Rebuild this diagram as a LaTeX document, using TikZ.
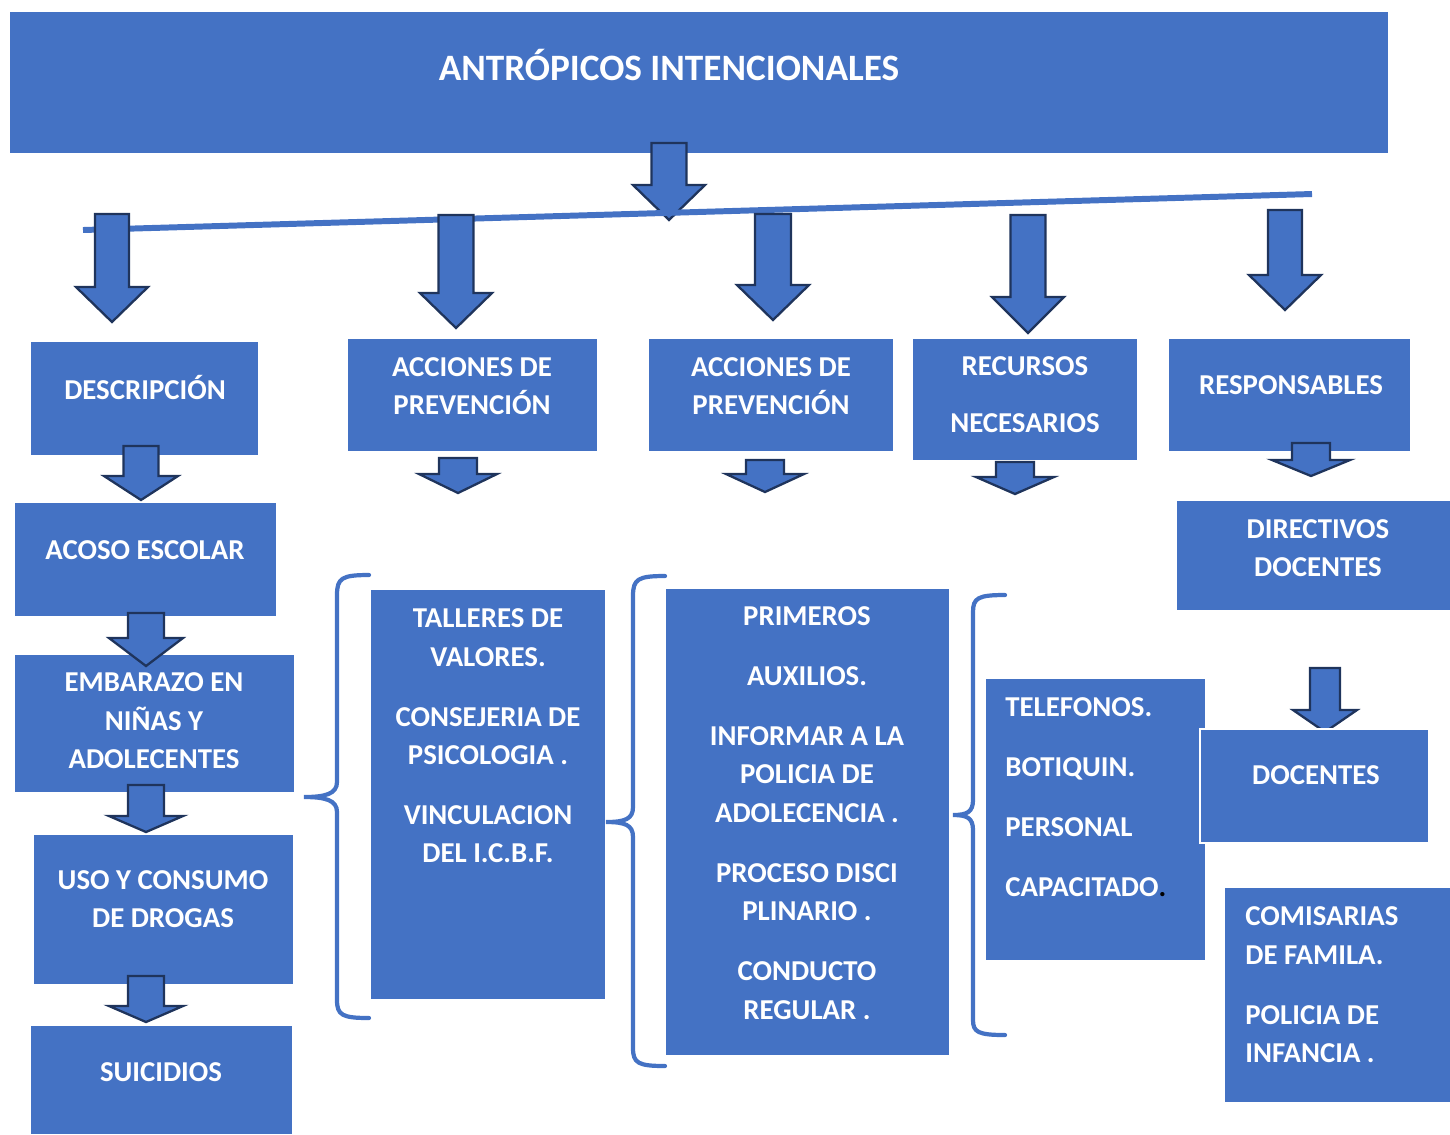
\documentclass[tikz,border=0pt]{standalone}
\usepackage{fontspec}
\setmainfont{Carlito}
\definecolor{boxblue}{RGB}{68,114,196}
\definecolor{arrowline}{RGB}{31,52,92}
\tikzset{
	boxfill/.style={fill=boxblue},
	boxtext/.style={text=white, font=\bfseries\fontsize{16.4}{21.9}\selectfont, inner sep=0pt, align=center},
	bigtext/.style={boxtext, font=\bfseries\fontsize{21.2}{26}\selectfont},
	blockarrow/.style={fill=boxblue, draw=arrowline, line width=1.3pt, line join=miter},
	bracket/.style={draw=boxblue, line width=2.4pt, line cap=round},
}
% down arrow: centre x, top, head y, tip y, half shaft, half head
\newcommand{\downblock}[6]{%
	\filldraw[blockarrow] ({#1-#5}, #2) -- ({#1+#5}, #2) -- ({#1+#5}, #3) -- ({#1+#6}, #3)
		-- (#1, #4) -- ({#1-#6}, #3) -- ({#1-#5}, #3) -- cycle;}
\begin{document}
\begin{tikzpicture}[x=0.02cm, y=-0.02cm]
	\useasboundingbox (0, 0) rectangle (1450, 1134);

	\fill[boxfill] (10, 12) rectangle (1388, 153);
	\node[bigtext] (title) at(669, 65){ANTRÓPICOS INTENCIONALES};

	\downblock{669}{143}{185}{220}{17.5}{36}
	\draw[boxblue, line width=3.4pt] (83, 230) to (1312, 194);

		\downblock{112}{214}{287}{322}{17}{36}
		\downblock{456}{215}{293}{328}{17.5}{36}
		\downblock{773}{214}{285}{320}{18}{36}
		\downblock{1028}{215}{297}{333}{17.5}{36}
		\downblock{1285}{210}{275}{310}{17}{36}

	\fill[boxfill] (31, 342) rectangle (258, 455);
	\fill[boxfill] (348, 339) rectangle (597, 451);
	\fill[boxfill] (649, 339) rectangle (893, 451);
	\fill[boxfill] (913, 339) rectangle (1137, 460);
	\fill[boxfill] (1169, 339) rectangle (1410, 451);

	\node[boxtext] (descripcion) at(145, 387){DESCRIPCIÓN};
	\node[boxtext] (accionesA) at(472, 386){ACCIONES DE\\PREVENCIÓN};
	\node[boxtext] (accionesB) at(771, 386){ACCIONES DE\\PREVENCIÓN};
	\node[boxtext] (recursos) at(1025, 395){RECURSOS\\[10.4pt]NECESARIOS};
	\node[boxtext] (responsables) at(1291, 385){RESPONSABLES};

		\downblock{458}{458}{474}{493}{19}{39}
		\downblock{765}{460}{474}{492}{19}{39}
		\downblock{1015}{462}{477}{494}{19}{39}
		\downblock{1311}{443}{460}{476}{19}{39}

	% left column
	\fill[boxfill] (15, 503) rectangle (276, 616);
	\fill[boxfill] (15, 655) rectangle (294, 792);
	\fill[boxfill] (34, 835) rectangle (293, 984);
	\fill[boxfill] (31, 1026) rectangle (292, 1134);

	\node[boxtext] (acoso) at(145, 550){ACOSO ESCOLAR};
	\node[boxtext] (embarazo) at(154, 721){EMBARAZO EN\\NIÑAS Y\\ADOLECENTES};
	\node[boxtext] (drogas) at(163, 899){USO Y CONSUMO\\DE DROGAS};
	\node[boxtext] (suicidios) at(161, 1072){SUICIDIOS};

		\downblock{141}{446}{476}{500}{17.5}{37}
		\downblock{146}{613}{638}{666}{18}{37}
		\downblock{146}{785}{816}{832}{18}{37}
		\downblock{146}{976}{1006}{1022}{18}{37}

	% brackets
	\draw[bracket] (369, 575) .. controls (342, 575) and (337, 578) .. (337, 595) to (337, 782)
		.. controls (337, 794) and (325, 797) .. (304, 797) .. controls (325, 797) and (337, 800) .. (337, 812)
		to (337, 1000) .. controls (337, 1015) and (342, 1018) .. (369, 1018);
	\draw[bracket] (665, 576) .. controls (638, 576) and (633, 579) .. (633, 596) to (633, 807)
		.. controls (633, 819) and (625, 822) .. (606, 822) .. controls (625, 822) and (633, 825) .. (633, 837)
		to (633, 1048) .. controls (633, 1063) and (638, 1066) .. (665, 1066);
	\draw[bracket] (1005, 595) .. controls (978, 595) and (973, 598) .. (973, 612) to (973, 800)
		.. controls (973, 812) and (967, 815) .. (953, 815) .. controls (967, 815) and (973, 818) .. (973, 830)
		to (973, 1020) .. controls (973, 1032) and (978, 1035) .. (1005, 1035);

	\fill[boxfill] (371, 590) rectangle (605, 999);
	\node[boxtext] (talleres) at(488, 736){TALLERES DE\\VALORES.\\[12.2pt]CONSEJERIA DE\\PSICOLOGIA .\\[12.2pt]VINCULACION\\DEL I.C.B.F.};

	\fill[boxfill] (666, 589) rectangle (949, 1055);
	\node[boxtext] (primeros) at(807, 813){PRIMEROS\\[12.2pt]AUXILIOS.\\[12.2pt]INFORMAR A LA\\POLICIA DE\\ADOLECENCIA .\\[12.2pt]PROCESO DISCI\\PLINARIO .\\[12.2pt]CONDUCTO\\REGULAR .};

	\fill[boxfill] (986, 679) rectangle (1205, 960);
	\node[boxtext, align=left, anchor=west] (telefonos) at(1005, 797){TELEFONOS.\\[12.2pt]BOTIQUIN.\\[12.2pt]PERSONAL\\[12.2pt]CAPACITADO{\color{black}.}};

	% responsables
	\fill[boxfill] (1177, 501) rectangle (1450, 610);
	\node[boxtext] (directivos) at(1318, 548){DIRECTIVOS\\DOCENTES};

		\downblock{1325}{668}{710}{732}{15}{32}
	\filldraw[boxfill, draw=white, line width=1pt] (1200, 729) rectangle (1429, 843);
	\node[boxtext] (docentes) at(1316, 775){DOCENTES};

	\fill[boxfill] (1225, 888) rectangle (1450, 1102);
	\node[boxtext, align=left, anchor=west] (comisarias) at(1245, 985){COMISARIAS\\DE FAMILA.\\[12.2pt]POLICIA DE\\INFANCIA .};

\end{tikzpicture}
\end{document}
